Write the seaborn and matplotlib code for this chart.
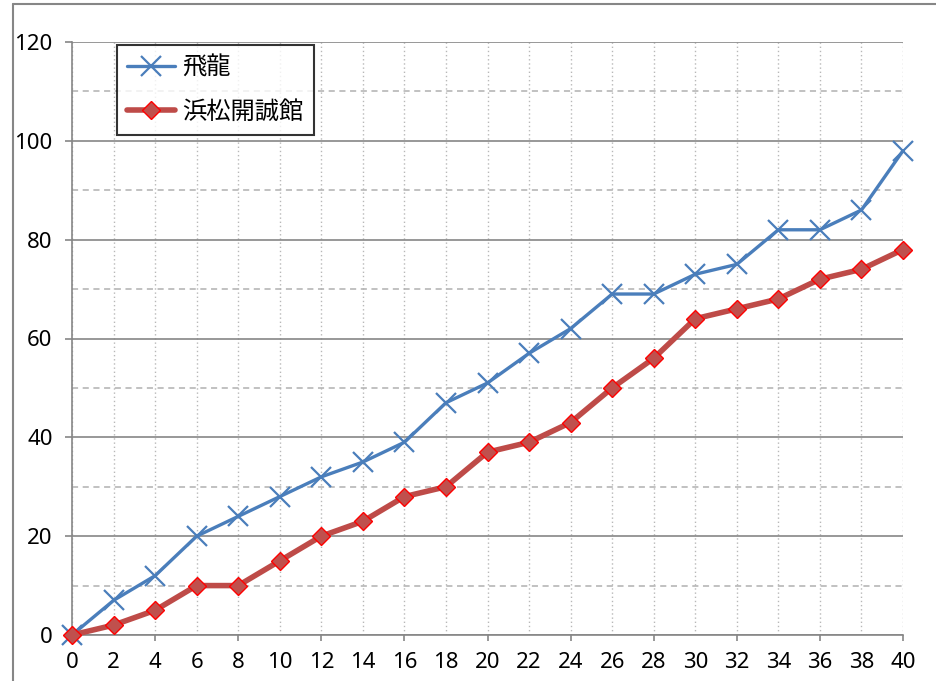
import matplotlib
matplotlib.use('Agg')
import matplotlib.pyplot as plt
import seaborn as sns
import pandas as pd
from matplotlib.lines import Line2D
from matplotlib.ticker import MultipleLocator

# data
x_vals = list(range(0, 41, 2))
hiryu = [0, 7, 12, 20, 24, 28, 32, 35, 39, 47, 51, 57, 62, 69, 69, 73, 75, 82, 82, 86, 98]
kaiseikan = [0, 2, 5, 10, 10, 15, 20, 23, 28, 30, 37, 39, 43, 50, 56, 64, 66, 68, 72, 74, 78]
series_names = ["飛龍", "浜松開誠館"]

df = pd.DataFrame({"x": x_vals, series_names[0]: hiryu, series_names[1]: kaiseikan})
long = df.melt(id_vars="x", var_name="team", value_name="y")

sns.set_style("white")
plt.rcParams["font.family"] = ["Noto Sans", "Noto Sans CJK JP", "DejaVu Sans"]

fig = plt.figure(figsize=(9.37, 6.81), dpi=100)
ax = fig.add_axes([72 / 937, 46 / 681, 831 / 937, 593 / 681])

blue = "#4A7EBB"
red = "#BE4B48"

sns.lineplot(data=long[long.team == series_names[0]], x="x", y="y", ax=ax,
             color=blue, lw=2.4, marker="x", markersize=14, markeredgewidth=1.6,
             markeredgecolor=blue, label=series_names[0], clip_on=False, zorder=4)
sns.lineplot(data=long[long.team == series_names[1]], x="x", y="y", ax=ax,
             color=red, lw=4.0, marker="D", markersize=9, markerfacecolor="#C0504D",
             markeredgecolor="#FF0000", markeredgewidth=1.0,
             label=series_names[1], clip_on=False, zorder=5)

ax.set_xlim(0, 40)
ax.set_ylim(0, 120)
ax.set_xlabel("")
ax.set_ylabel("")

# x axis: labels every 2, tick marks every 4
ax.set_xticks(range(0, 41, 2))
ax.set_xticks(range(0, 41, 4), minor=True)
ax.xaxis.remove_overlapping_locs = False
ax.tick_params(axis="x", which="major", length=0, pad=12, labelsize=16, labelcolor="black")
ax.tick_params(axis="x", which="minor", length=4.5, width=1.2, color="#868686", bottom=True)

# y axis: major every 20, minor every 10
ax.yaxis.set_major_locator(MultipleLocator(20))
ax.yaxis.set_minor_locator(MultipleLocator(10))
ax.tick_params(axis="y", which="major", length=5, width=1.2, color="#868686", left=True,
               pad=9, labelsize=16, labelcolor="black")
ax.tick_params(axis="y", which="minor", length=0)

ax.grid(axis="y", which="major", color="#868686", lw=1.2, ls="-")
ax.grid(axis="y", which="minor", color="#B0B0B0", lw=1.1, ls=(0, (4, 3)))
ax.grid(axis="x", which="major", color="#B8B8B8", lw=1.0, ls=(0, (1, 2)))
ax.set_axisbelow(True)

for s in ["top", "right"]:
    ax.spines[s].set_visible(False)
for s in ["left", "bottom"]:
    ax.spines[s].set_color("#868686")
    ax.spines[s].set_linewidth(1.2)

leg = ax.legend(loc="upper left", bbox_to_anchor=(45 / 831, 1 - 3 / 593), borderaxespad=0,
                frameon=True, fancybox=False, edgecolor="black", fontsize=17.5,
                handlelength=2.0, borderpad=0.4, labelspacing=0.75, handletextpad=0.3)
leg.get_frame().set_linewidth(1.5)
for t in leg.get_texts():
    t.set_family(["Noto Sans CJK JP", "DejaVu Sans"])
    t.set_color("black")

# outer chart frame (top and left edges visible)
fig.add_artist(Line2D([13 / 937, 1.0], [1 - 4 / 681, 1 - 4 / 681], color="#868686", lw=1.5))
fig.add_artist(Line2D([13 / 937, 13 / 937], [0, 1 - 4 / 681], color="#868686", lw=1.5))

fig.savefig("out.png", dpi=100)
plt.close(fig)
